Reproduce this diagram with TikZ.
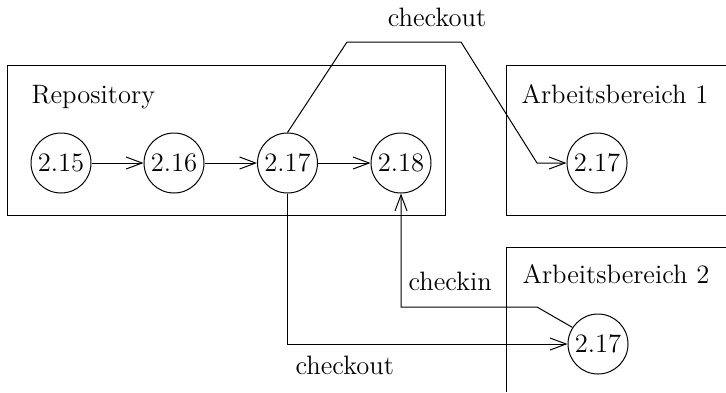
\documentclass[tikz,border=0pt]{standalone}
\usetikzlibrary{arrows.meta}
\begin{document}
\begin{tikzpicture}[x=0.5pt,y=-0.5pt,
  every path/.style={line width=0.5pt},
  ver/.style={circle,draw,line width=0.5pt,inner sep=0pt,minimum size=30pt,font=\fontsize{13.3}{15}\selectfont},
  lbl/.style={anchor=base west,inner sep=0pt,font=\fontsize{13.3}{15}\selectfont},
  arr/.style={-{Straight Barb[length=8pt,width=6pt,line width=0.5pt]}}]
\useasboundingbox (0,0) rectangle (726,392);
% boxes
\draw (7,65) rectangle (445,215);
\draw (726,65) -- (506,65) -- (506,215) -- (726,215);
\draw (726,247) -- (506,247) -- (506,392);
% labels
\node[lbl] (repo) at (31,103) {Repository};
\node[lbl] (ab1) at (521,103) {Arbeitsbereich 1};
\node[lbl] (ab2) at (522,283) {Arbeitsbereich 2};
% versions
\node[ver] (c15) at (61,163) {2.15};
\node[ver] (c16) at (174,163) {2.16};
\node[ver] (c17) at (287.5,163) {2.17};
\node[ver] (c18) at (401,163) {2.18};
\node[ver] (w1) at (597,163) {2.17};
\node[ver] (w2) at (598,344) {2.17};
% chain
\draw[arr] (c15) -- (c16);
\draw[arr] (c16) -- (c17);
\draw[arr] (c17) -- (c18);
% top checkout
\coordinate (t1) at (347,42);
\coordinate (t2) at (461,42);
\coordinate (t3) at (537,163);
\draw[arr] (c17.north) -- (t1) -- (t2) -- (t3) -- (w1.west);
\node[anchor=base,inner sep=0pt,font=\fontsize{13.3}{15}\selectfont] (co1) at (437,26) {checkout};
% bottom checkout
\draw[arr] (c17.south) |- (w2.west);
\node[lbl] (co2) at (295,374) {checkout};
% checkin
\coordinate (k1) at (537,307);
\coordinate (k2) at (401,307);
\draw[arr] (w2.147) -- (k1) -- (k2) -- (c18.south);
\node[lbl] (ci) at (408,290) {checkin};
\end{tikzpicture}
\end{document}
